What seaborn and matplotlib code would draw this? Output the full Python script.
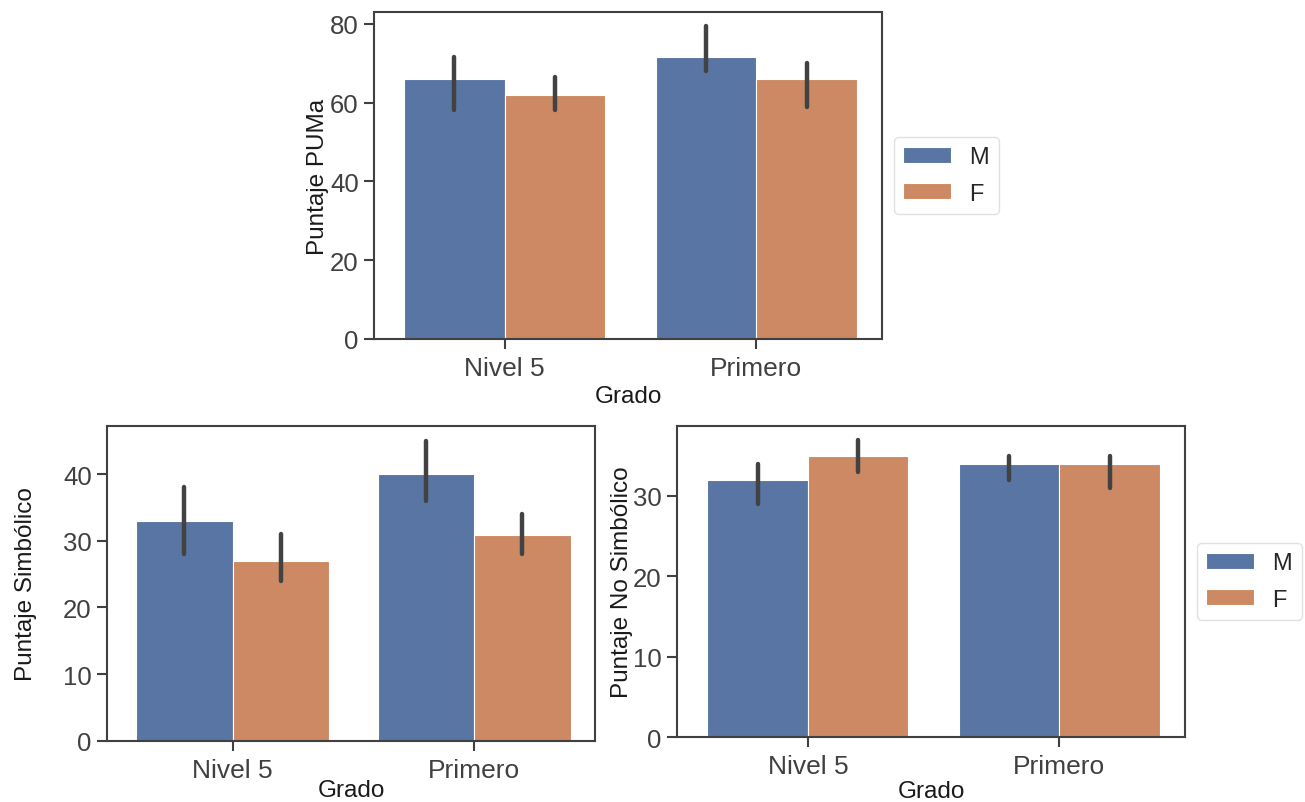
#Importing Modules
import pandas as pd
import numpy as np
import seaborn as sns
import matplotlib.pyplot as plt

#Data: mean and error bar ends per group
grados = ["Nivel 5", "Primero"]
sexos = ["M", "F"]

puma_mean = [66, 62, 71.7, 66]
puma_lo = [58, 58, 68, 59]
puma_hi = [71.5, 66.5, 79.5, 70]

simb_mean = [33, 27, 40, 30.8]
simb_lo = [28, 24, 36, 28]
simb_hi = [38, 31, 45, 34]

nosimb_mean = [32, 35, 34, 34]
nosimb_lo = [29, 33, 32, 31]
nosimb_hi = [34, 37, 35, 35]


def make_df(col, lo, mean, hi):
	rows = []
	k = 0
	for g in grados:
		for s in sexos:
			for v in (lo[k], mean[k], hi[k]):
				rows.append({"Grado": g, "Sexo": s, col: v})
			k += 1
	return pd.DataFrame(rows)


df_puma = make_df("Puntaje PUMa", puma_lo, puma_mean, puma_hi)
df_simb = make_df("Puntaje Simbólico", simb_lo, simb_mean, simb_hi)
df_nosimb = make_df("Puntaje No Simbólico", nosimb_lo, nosimb_mean, nosimb_hi)

sns.set_style("ticks")
plt.rcParams['font.family'] = ['Liberation Sans', 'DejaVu Sans']
plt.rcParams['axes.edgecolor'] = '.25'
plt.rcParams['axes.linewidth'] = 1.5
plt.rcParams['xtick.major.size'] = 7
plt.rcParams['ytick.major.size'] = 7
plt.rcParams['xtick.major.width'] = 1.5
plt.rcParams['ytick.major.width'] = 1.5
plt.rcParams['xtick.labelsize'] = 19
plt.rcParams['ytick.labelsize'] = 18.5
plt.rcParams['axes.labelsize'] = 17.5
plt.rcParams['xtick.color'] = '.25'
plt.rcParams['ytick.color'] = '.25'
plt.rcParams['axes.labelcolor'] = '.1'

fig = plt.figure(figsize=(13.05, 8.03), dpi=100)
ax1 = fig.add_axes([0.2866, 0.5766, 0.3893, 0.4072])
ax2 = fig.add_axes([0.0820, 0.0760, 0.3739, 0.3923])
ax3 = fig.add_axes([0.5188, 0.0809, 0.3893, 0.3873])

spread = lambda x: (x.min(), x.max())

for ax, df, col, top in [(ax1, df_puma, "Puntaje PUMa", 83),
						  (ax2, df_simb, "Puntaje Simbólico", 47.2),
						  (ax3, df_nosimb, "Puntaje No Simbólico", 38.7)]:
	sns.barplot(data=df, x="Grado", y=col, hue="Sexo", order=grados, hue_order=sexos,
				estimator="median", errorbar=spread, palette="deep", saturation=0.75,
				edgecolor="white", linewidth=0.8,
				err_kws={"color": ".26", "linewidth": 3.2}, ax=ax)
	ax.set_ylim(0, top)
	ax.set_xlim(-0.52, 1.5)
	ax.tick_params(axis='x', pad=5)
	ax.tick_params(axis='y', pad=4)

ax1.set_yticks([0, 20, 40, 60, 80])
ax2.set_yticks([0, 10, 20, 30, 40])
ax3.set_yticks([0, 10, 20, 30])

ax1.xaxis.labelpad = 4
ax2.xaxis.labelpad = -2
ax3.xaxis.labelpad = 2
ax1.yaxis.labelpad = 1
ax2.yaxis.labelpad = 19
ax3.yaxis.labelpad = 0

for ax in [ax1, ax3]:
	ax.legend(loc="center left", bbox_to_anchor=(1.0, 0.5), fontsize=17,
			  handlelength=2.0, handleheight=0.65, labelspacing=0.6, borderpad=0.4,
			  handletextpad=0.8, title=None, edgecolor='.85')
ax2.get_legend().remove()

plt.savefig("out.png", dpi=100)
